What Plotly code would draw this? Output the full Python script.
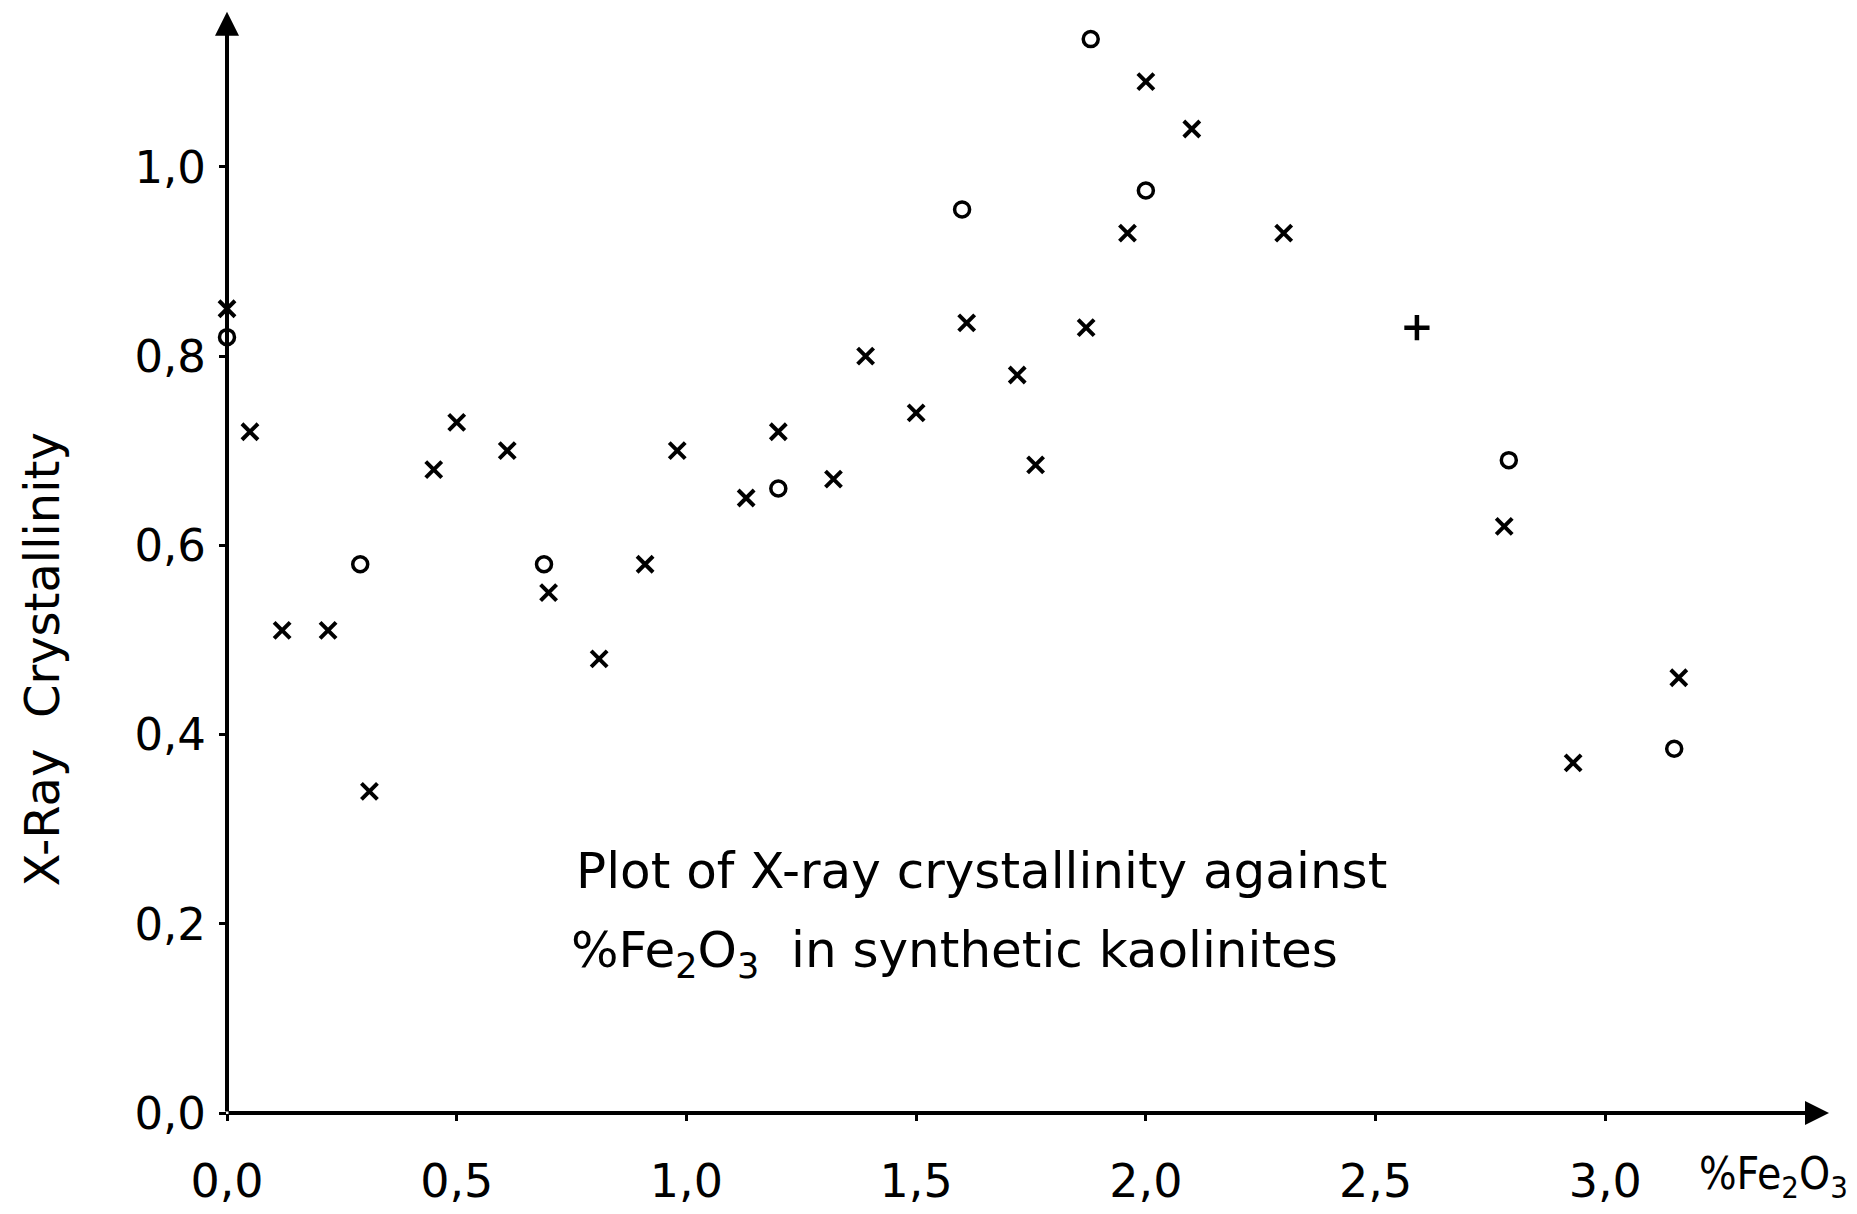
import plotly.graph_objects as go

# Synthetic kaolinites: X-ray crystallinity vs. Fe2O3 content (%)
cross_fe2o3 = [0.00, 0.05, 0.12, 0.22, 0.31, 0.45, 0.50, 0.61, 0.70, 0.81,
               0.91, 0.98, 1.13, 1.20, 1.32, 1.39, 1.50, 1.61, 1.72, 1.76,
               1.87, 1.96, 2.00, 2.10, 2.30, 2.78, 2.93, 3.16]
cross_cryst = [0.85, 0.72, 0.51, 0.51, 0.34, 0.68, 0.73, 0.70, 0.55, 0.48,
               0.58, 0.70, 0.65, 0.72, 0.67, 0.80, 0.74, 0.835, 0.78, 0.685,
               0.83, 0.93, 1.09, 1.04, 0.93, 0.62, 0.37, 0.46]

plus_fe2o3 = [2.59]
plus_cryst = [0.83]

circle_fe2o3 = [0.00, 0.29, 0.69, 1.20, 1.60, 1.88, 2.00, 2.79, 3.15]
circle_cryst = [0.82, 0.58, 0.58, 0.66, 0.955, 1.135, 0.975, 0.69, 0.385]

x_ticks = [0.0, 0.5, 1.0, 1.5, 2.0, 2.5, 3.0]
x_tick_text = ["0,0", "0,5", "1,0", "1,5", "2,0", "2,5", "3,0"]
y_ticks = [0.0, 0.2, 0.4, 0.6, 0.8, 1.0]
y_tick_text = ["0,0", "0,2", "0,4", "0,6", "0,8", "1,0"]

X_MAX, Y_MAX = 3.5, 1.17
X_ARROW, Y_ARROW = 3.487, 1.164

FONT = "DejaVu Sans"
FONT_NARROW = "DejaVu Sans Condensed"
INK = "black"

fig = go.Figure()

fig.add_trace(go.Scatter(
    x=cross_fe2o3, y=cross_cryst, mode="markers", cliponaxis=False,
    marker=dict(symbol="x-thin", size=16, color=INK,
                line=dict(width=4, color=INK)),
    showlegend=False,
))
fig.add_trace(go.Scatter(
    x=plus_fe2o3, y=plus_cryst, mode="markers", cliponaxis=False,
    marker=dict(symbol="cross-thin", size=18, color=INK,
                line=dict(width=4.5, color=INK)),
    showlegend=False,
))
fig.add_trace(go.Scatter(
    x=circle_fe2o3, y=circle_cryst, mode="markers", cliponaxis=False,
    marker=dict(symbol="circle-open", size=15, color=INK,
                line=dict(width=3.5, color=INK)),
    showlegend=False,
))

# axis lines with arrowheads
arrow_style = dict(text="", showarrow=True, arrowhead=2, arrowsize=1.2,
                   arrowwidth=4, arrowcolor=INK, axref="x", ayref="y",
                   xref="x", yref="y", standoff=0, startstandoff=0)
fig.add_annotation(x=X_ARROW, y=0, ax=0, ay=0, **arrow_style)
fig.add_annotation(x=0, y=Y_ARROW, ax=0, ay=0, **arrow_style)

# caption inside the plot
fig.add_annotation(
    x=0.755, y=0.256, xref="x", yref="y", xanchor="left", yanchor="middle",
    text="Plot of X-ray crystallinity against", showarrow=False,
    font=dict(family=FONT, size=50, color=INK),
)
fig.add_annotation(
    x=0.745, y=0.169, xref="x", yref="y", xanchor="left", yanchor="middle",
    text="%Fe<sub>2</sub>O<sub>3</sub>\u00a0 in synthetic kaolinites", showarrow=False,
    font=dict(family=FONT, size=50, color=INK),
)

# axis titles
fig.add_annotation(
    x=3.2, y=0, xref="x", yref="y", xanchor="left", yanchor="middle", yshift=-63,
    text="%Fe<sub>2</sub>O<sub>3</sub>", showarrow=False,
    font=dict(family=FONT_NARROW, size=44, color=INK),
)
fig.add_annotation(
    x=0, y=0.5, xref="paper", yref="paper", xanchor="center", yanchor="middle",
    xshift=-186, yshift=-100, textangle=-90,
    text="X-Ray\u00a0 Crystallinity", showarrow=False,
    font=dict(family=FONT, size=48, color=INK),
)

axis_common = dict(showgrid=False, zeroline=False, showline=False,
                   ticks="outside", ticklen=7, tickwidth=3, tickcolor=INK)

fig.update_xaxes(range=[0, X_MAX], tickvals=x_ticks, ticktext=x_tick_text,
                 ticklabelstandoff=21,
                 tickfont=dict(family=FONT, size=46, color=INK), **axis_common)
fig.update_yaxes(range=[0, Y_MAX], tickvals=y_ticks, ticktext=y_tick_text,
                 ticklabelstandoff=4,
                 tickfont=dict(family=FONT, size=45, color=INK), **axis_common)

fig.update_layout(
    width=1857, height=1214,
    margin=dict(l=227, r=22, t=6, b=101),
    plot_bgcolor="white", paper_bgcolor="white",
    font=dict(family=FONT, color=INK),
)

fig.write_html("out.html")
